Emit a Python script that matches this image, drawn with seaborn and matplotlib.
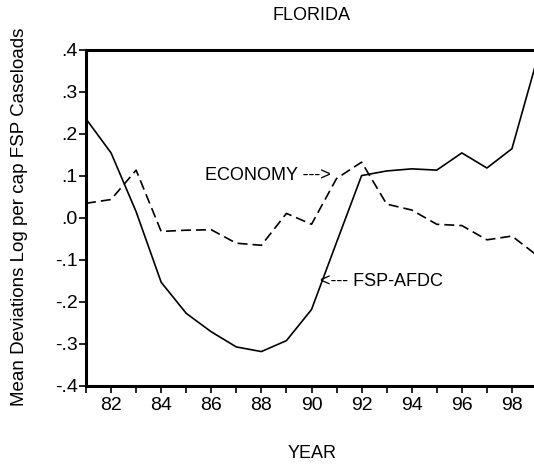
import numpy as np
import pandas as pd
import matplotlib
matplotlib.use("Agg")
import matplotlib.pyplot as plt
import matplotlib.ticker as mticker
import seaborn as sns

# data
years = np.arange(81, 100)
fsp_afdc = [0.236, 0.155, 0.015, -0.153, -0.227, -0.271, -0.307, -0.318, -0.292,
            -0.218, -0.058, 0.101, 0.112, 0.117, 0.114, 0.155, 0.119, 0.165, 0.377]
economy = [0.035, 0.044, 0.114, -0.032, -0.029, -0.028, -0.060, -0.065, 0.011,
           -0.015, 0.094, 0.133, 0.033, 0.019, -0.015, -0.018, -0.052, -0.043, -0.089]
y_ticks = [-0.4, -0.3, -0.2, -0.1, 0.0, 0.1, 0.2, 0.3, 0.4]
x_ticks = [82, 84, 86, 88, 90, 92, 94, 96, 98]

sns.set_style("ticks")
plt.rcParams["font.family"] = ["Liberation Sans", "DejaVu Sans"]
plt.rcParams["text.color"] = "black"

df = pd.DataFrame({"year": years, "fsp": fsp_afdc, "eco": economy})

fig = plt.figure(figsize=(5.34, 4.68), dpi=100)
ax = fig.add_axes([86 / 534, 1 - 386 / 468, (537 - 86) / 534, (386 - 50) / 468])

sns.lineplot(data=df, x="year", y="fsp", ax=ax, color="black", linewidth=1.2)
sns.lineplot(data=df, x="year", y="eco", ax=ax, color="black", linewidth=1.2,
             linestyle=(0, (6, 3)))

ax.set_xlim(81, 99)
ax.set_ylim(-0.4, 0.4)
ax.set_xticks(x_ticks)
ax.set_xticks(years, minor=True)
ax.set_yticks(y_ticks)

def fmt(v, pos):
    s = "%.1f" % v
    s = s.replace("0.", ".")
    return s

ax.yaxis.set_major_formatter(mticker.FuncFormatter(fmt))
ax.tick_params(axis="both", which="both", direction="out", length=5, width=1.2,
               labelsize=14, color="black", labelcolor="black")
ax.tick_params(axis="y", pad=1)
ax.tick_params(axis="x", pad=3)

for side in ["left", "bottom", "top", "right"]:
    ax.spines[side].set_linewidth(2.2)
    ax.spines[side].set_color("black")

ax.set_xlabel("")
ax.set_ylabel("")

ax.text(85.73, 0.10, "ECONOMY --->", fontsize=13, ha="left", va="center", color="black")
ax.text(90.33, -0.152, "<--- FSP-AFDC", fontsize=13, ha="left", va="center", color="black")

fig.text(312 / 534, 1 - 16 / 468, "FLORIDA", fontsize=13, ha="center", va="center")
fig.text(312 / 534, 1 - 453 / 468, "YEAR", fontsize=13, ha="center", va="center")
fig.text(20 / 534, 1 - 217 / 468, "Mean Deviations Log per cap FSP Caseloads",
         fontsize=13.5, ha="center", va="center", rotation=90)

fig.savefig("out.png", dpi=100, facecolor="white")
